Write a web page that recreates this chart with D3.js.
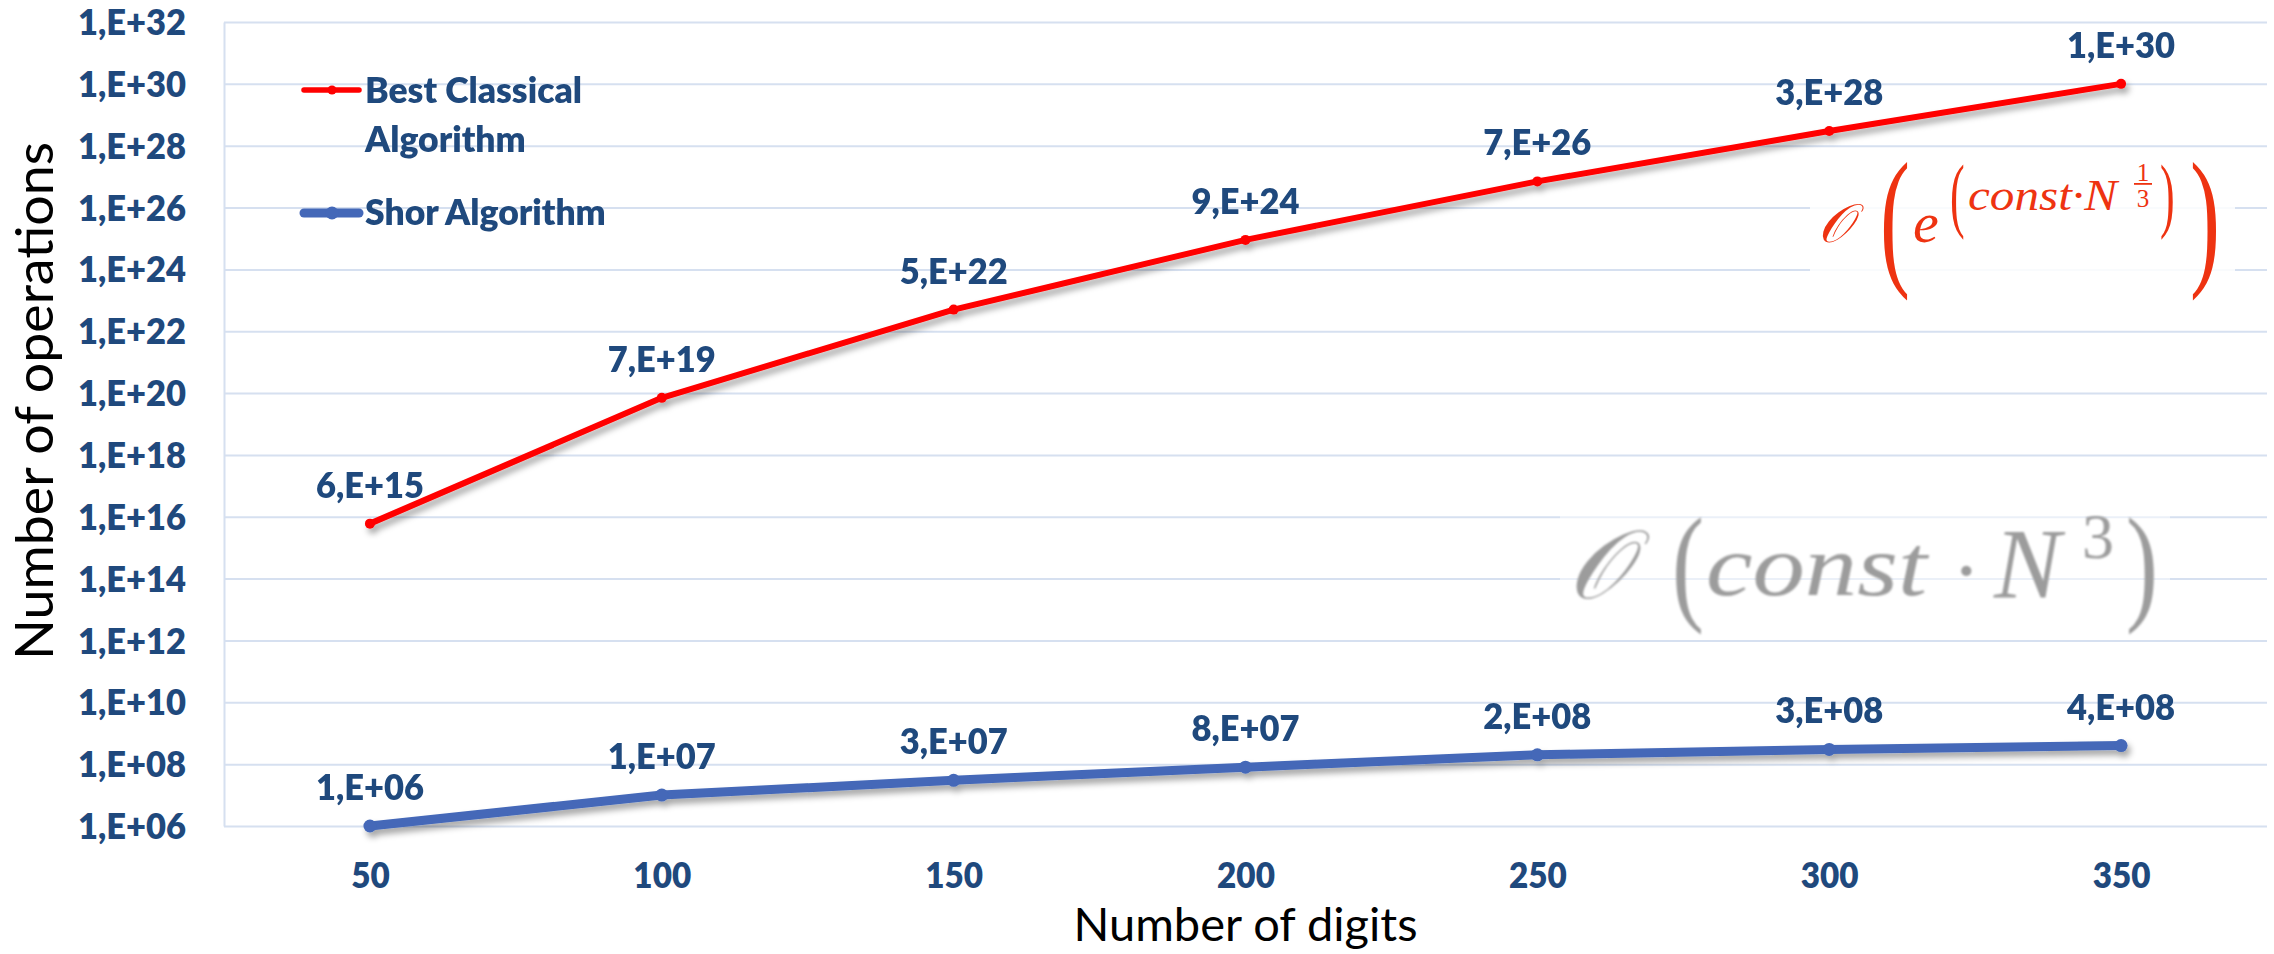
<!DOCTYPE html>
<html>
<head>
<meta charset="utf-8">
<script src="https://cdn.jsdelivr.net/npm/d3@7"></script>
<style>
  html, body { margin: 0; padding: 0; background: #ffffff; }
  svg { display: block; }
</style>
</head>
<body>
<svg id="chart" width="2274" height="954"></svg>
<script>
// ---- data ----
const digits = [50, 100, 150, 200, 250, 300, 350];
const classicalOps = [6e15, 7e19, 5e22, 9e24, 7e26, 3e28, 1e30];
const shorOps = [1e6, 1e7, 3e7, 8e7, 2e8, 3e8, 4e8];
const yTickExponents = [6, 8, 10, 12, 14, 16, 18, 20, 22, 24, 26, 28, 30, 32];
const classicalName = ["Best Classical", "Algorithm"];
const shorName = ["Shor Algorithm"];
const xTitle = "Number of digits";
const yTitle = "Number of operations";

// ---- style ----
const W = 2274, H = 954;
const plot = { left: 224, right: 2267, top: 22, bottom: 826 };
const navy = "#1F497D";
const gridColor = "#D6E0F0";
const red = "#FF0000";
const blue = "#4468B8";
const labelFont = "Lato, 'Open Sans', sans-serif";
const labelSize = 35;
const labelWeight = 800;

// Excel-style "0,E+00" formatting
function sci(v) {
  let e = Math.floor(Math.log10(v));
  let m = Math.round(v / Math.pow(10, e));
  if (m === 10) { m = 1; e += 1; }
  const es = (e < 10 ? "0" : "") + e;
  return m + ",E+" + es;
}

const svg = d3.select("#chart");
svg.append("rect").attr("width", W).attr("height", H).attr("fill", "#fff");

const defs = svg.append("defs");
const sh = defs.append("filter").attr("id", "shadow")
  .attr("filterUnits", "userSpaceOnUse")
  .attr("x", 0).attr("y", 0).attr("width", W).attr("height", H);
sh.append("feDropShadow").attr("dx", 3).attr("dy", 5).attr("stdDeviation", 3)
  .attr("flood-color", "#000").attr("flood-opacity", 0.35);
const soft = defs.append("filter").attr("id", "soft")
  .attr("filterUnits", "userSpaceOnUse")
  .attr("x", 0).attr("y", 0).attr("width", W).attr("height", H);
soft.append("feGaussianBlur").attr("stdDeviation", 1.3);

// ---- scales ----
const x = d3.scalePoint().domain(digits).range([plot.left, plot.right]).padding(0.5);
const y = d3.scaleLog().domain([1e6, 1e32]).range([plot.bottom, plot.top]);
const yTicks = yTickExponents.map(e => Math.pow(10, e));

// helper: condense a text run to a width factor (narrow face look)
function measure(str, size, weight) {
  const t = svg.append("text").attr("font-family", labelFont)
    .attr("font-size", size).attr("font-weight", weight).text(str);
  const w = t.node().getComputedTextLength();
  t.remove();
  return w;
}
const labelSquash = 108 / measure("1,E+30", labelSize, labelWeight);
function squash(sel, f) {
  sel.each(function () {
    const w = this.getComputedTextLength();
    d3.select(this).attr("textLength", w * f).attr("lengthAdjust", "spacingAndGlyphs");
  });
}

// ---- gridlines ----
svg.append("g")
  .attr("transform", `translate(${plot.left},0)`)
  .call(d3.axisLeft(y).tickValues(yTicks).tickSize(-(plot.right - plot.left)).tickFormat(""))
  .call(g => g.select(".domain").remove())
  .call(g => g.selectAll("line").attr("stroke", gridColor).attr("stroke-width", 2));

// ---- y axis ----
const yAxis = svg.append("g")
  .attr("transform", `translate(${plot.left},0)`)
  .call(d3.axisLeft(y).tickValues(yTicks).tickSize(0).tickSizeOuter(0).tickPadding(38).tickFormat(sci));
yAxis.select(".domain").attr("stroke", gridColor).attr("stroke-width", 2);
yAxis.selectAll("text")
  .attr("font-family", labelFont).attr("font-size", labelSize).attr("font-weight", labelWeight)
  .attr("fill", navy).attr("dy", "0.36em");
squash(yAxis.selectAll("text"), labelSquash);

// ---- x axis ----
const xAxis = svg.append("g")
  .attr("transform", `translate(0,${plot.bottom})`)
  .call(d3.axisBottom(x).tickSize(0).tickPadding(37));
xAxis.select(".domain").remove();
xAxis.selectAll("text")
  .attr("font-family", labelFont).attr("font-size", labelSize).attr("font-weight", labelWeight)
  .attr("fill", navy);
squash(xAxis.selectAll("text"), 0.95);

// ---- axis titles ----
const xt = svg.append("text")
  .attr("x", (plot.left + plot.right) / 2).attr("y", 941)
  .attr("text-anchor", "middle")
  .attr("font-family", labelFont).attr("font-weight", 400).attr("font-size", 47)
  .attr("fill", "#000").text(xTitle);
xt.attr("textLength", 344).attr("lengthAdjust", "spacingAndGlyphs");

const yt = svg.append("text")
  .attr("transform", "translate(53,401) rotate(-90)")
  .attr("text-anchor", "middle")
  .attr("font-family", labelFont).attr("font-weight", 400).attr("font-size", 52)
  .attr("fill", "#000").text(yTitle);
yt.attr("textLength", 518).attr("lengthAdjust", "spacingAndGlyphs");

// ---- complexity annotations ----
const mathFont = "'Liberation Serif', 'DejaVu Serif', serif";
function mtext(g, str, px, py, size, opts = {}) {
  const t = g.append("text")
    .attr("font-family", opts.family || mathFont)
    .attr("font-style", opts.upright ? "normal" : "italic")
    .attr("font-size", size)
    .attr("text-anchor", opts.anchor || "start")
    .text(str);
  if (opts.sx || opts.sy) {
    t.attr("transform", `translate(${px},${py}) scale(${opts.sx || 1},${opts.sy || 1})`);
  } else {
    t.attr("x", px).attr("y", py);
  }
  if (opts.len) t.attr("textLength", opts.len).attr("lengthAdjust", "spacingAndGlyphs");
  return t;
}

// classical: O(e^(const·N^(1/3)))
svg.append("rect").attr("x", 1810).attr("y", 152).attr("width", 425).attr("height", 150)
  .attr("fill", "#fff").attr("opacity", 0.85);
const fc = svg.append("g").attr("fill", "#EE3311");
mtext(fc, "𝒪", 1818, 242, 54);
mtext(fc, "(", 1880, 268, 60, { upright: true, sx: 1.5, sy: 2.55 });
mtext(fc, "e", 1913, 242, 58);
mtext(fc, "(", 1950, 222, 40, { upright: true, sx: 1.1, sy: 2.05 });
mtext(fc, "const·N", 1968, 210, 44, { len: 149 });
mtext(fc, "1", 2143, 181, 25, { upright: true, anchor: "middle" });
fc.append("rect").attr("x", 2134).attr("y", 183).attr("width", 18).attr("height", 1.8);
mtext(fc, "3", 2143, 207, 25, { upright: true, anchor: "middle" });
mtext(fc, ")", 2160, 222, 40, { upright: true, sx: 1.1, sy: 2.05 });
mtext(fc, ")", 2190, 268, 60, { upright: true, sx: 1.5, sy: 2.55 });

// Shor: O(const·N^3)
svg.append("rect").attr("x", 1560).attr("y", 505).attr("width", 610).attr("height", 135)
  .attr("fill", "#fff").attr("opacity", 0.5);
const fs = svg.append("g").attr("fill", "#9C9C9C").attr("filter", "url(#soft)");
mtext(fs, "𝒪", 1568, 598, 96);
mtext(fs, "(", 1672, 607, 96, { upright: true, sy: 1.35 });
mtext(fs, "const", 1706, 595, 86, { len: 221 });
mtext(fs, "·", 1952, 600, 86, { upright: true });
mtext(fs, "N", 1994, 597, 100);
mtext(fs, "3", 2082, 558, 64, { upright: true });
mtext(fs, ")", 2126, 607, 96, { upright: true, sy: 1.35 });

// ---- series ----
const line = d3.line().x((d, i) => x(digits[i])).y(d => y(d));

const series = [
  { values: classicalOps, color: red, width: 6, r: 5 },
  { values: shorOps, color: blue, width: 9, r: 6.5 }
];

const marks = svg.append("g").attr("filter", "url(#shadow)");
series.forEach(s => {
  marks.append("path").datum(s.values)
    .attr("d", line).attr("fill", "none")
    .attr("stroke", s.color).attr("stroke-width", s.width)
    .attr("stroke-linejoin", "round").attr("stroke-linecap", "round");
  marks.selectAll(null).data(s.values).enter().append("circle")
    .attr("cx", (d, i) => x(digits[i])).attr("cy", d => y(d))
    .attr("r", s.r).attr("fill", s.color);
});

// value labels
series.forEach(s => {
  const lbl = svg.append("g").selectAll("text").data(s.values).enter().append("text")
    .attr("x", (d, i) => x(digits[i])).attr("y", d => y(d) - 26)
    .attr("text-anchor", "middle")
    .attr("font-family", labelFont).attr("font-size", labelSize).attr("font-weight", labelWeight)
    .attr("fill", navy).text(d => sci(d));
  squash(lbl, labelSquash);
});

// ---- legend ----
const legendSquash = 217 / measure(classicalName[0], labelSize, labelWeight);
const lg = svg.append("g");
const legendItems = [
  { lines: classicalName, color: red, width: 5.5, r: 4.5, ly: 90, ty: 103 },
  { lines: shorName, color: blue, width: 9, r: 6.5, ly: 213, ty: 225 }
];
legendItems.forEach(it => {
  lg.append("line").attr("x1", 304).attr("x2", 359).attr("y1", it.ly).attr("y2", it.ly)
    .attr("stroke", it.color).attr("stroke-width", it.width).attr("stroke-linecap", "round");
  lg.append("circle").attr("cx", 332).attr("cy", it.ly).attr("r", it.r).attr("fill", it.color);
  const t = lg.selectAll(null).data(it.lines).enter().append("text")
    .attr("x", 365).attr("y", (d, i) => it.ty + i * 49)
    .attr("font-family", labelFont).attr("font-size", labelSize).attr("font-weight", labelWeight)
    .attr("fill", navy).text(d => d);
  squash(t, legendSquash);
});
</script>
</body>
</html>
